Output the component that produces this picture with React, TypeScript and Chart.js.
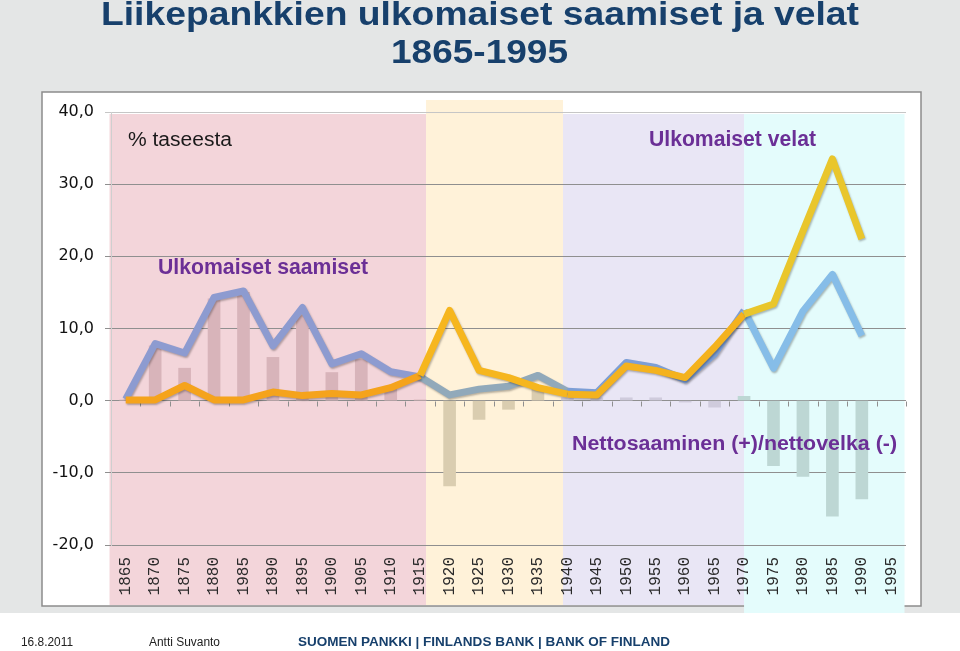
import React, { useEffect, useRef } from 'react';
import { Chart, registerables } from 'chart.js';

Chart.register(...registerables);

// ---- data ----
const years = ['1865', '1870', '1875', '1880', '1985', '1890', '1895', '1900', '1905', '1910', '1915', '1920', '1925', '1930', '1935', '1940', '1945', '1950', '1955', '1960', '1965', '1970', '1975', '1980', '1985', '1990', '1995'];
const assets = [0.2, 7.9, 6.6, 14.3, 15.2, 7.6, 12.9, 5.1, 6.5, 4.0, 3.3, 0.8, 1.6, 2.0, 3.5, 1.3, 1.1, 5.3, 4.6, 2.9, 6.5, 12.5, 4.5, 12.4, 17.5, 9.0, null];
const liabilities = [0.1, 0.1, 2.1, 0.1, 0.1, 1.2, 0.7, 1.0, 0.8, 1.8, 3.5, 12.5, 4.2, 3.2, 1.8, 0.9, 0.8, 4.8, 4.2, 3.2, 7.4, 12.0, 13.4, 23.5, 33.5, 22.4, null];
const net = [0.1, 7.6, 4.5, 14.1, 15.0, 6.0, 11.8, 3.9, 5.7, 2.0, 0.1, -11.8, -2.6, -1.2, 1.6, 0.4, 0.4, 0.4, 0.4, -0.2, -0.9, 0.6, -9.0, -10.5, -16.0, -13.6, null];
const yMin = -20;
const yMax = 40;
const yStep = 10;

// ---- period shading (in category units) ----
const bandEdges = [-0.55, 10.2, 14.85, 21.0, 26.45];
const bandColors = ['#f3d5da', '#fff2d9', '#e9e6f5', '#e4fcfc'];
const bandTops = [114, 100, 114, 114];
const bandBottoms = [605, 605, 605, 613];
const assetColors = ['#8d9bd0', '#91a9ba', '#7d9fd6', '#86bde8'];
const liabColors = ['#f5a31c', '#f6b61e', '#f4b21e', '#e9c62c'];
const barColors = ['#d8b4ba', '#dacdb0', '#cfcbdc', '#bdd7d4'];

const periodAt = (v: number) => {
  for (let k = 0; k < bandColors.length; k++) {
    if (v < bandEdges[k + 1]) return k;
  }
  return bandColors.length - 1;
};

const fitText = (ctx: CanvasRenderingContext2D, text: string, left: number, baseline: number, width: number, font: string, color: string) => {
  ctx.save();
  ctx.font = font;
  ctx.fillStyle = color;
  ctx.textAlign = 'left';
  ctx.textBaseline = 'alphabetic';
  const w = ctx.measureText(text).width;
  ctx.translate(left, baseline);
  ctx.scale(width / w, 1);
  ctx.fillText(text, 0, 0);
  ctx.restore();
};

const decor = {
  id: 'decor',
  beforeDraw(chart: any) {
    const { ctx } = chart;
    const x = chart.scales.x;
    ctx.save();
    ctx.fillStyle = '#e4e6e6';
    ctx.fillRect(0, 0, 960, 613);
    ctx.fillStyle = '#ffffff';
    ctx.fillRect(0, 613, 960, 38);
    ctx.fillStyle = '#ffffff';
    ctx.fillRect(42, 92, 879, 514);
    ctx.strokeStyle = '#8c8c8c';
    ctx.lineWidth = 1.5;
    ctx.strokeRect(42, 92, 879, 514);
    for (let k = 0; k < bandColors.length; k++) {
      const l = x.getPixelForValue(bandEdges[k]);
      const r = x.getPixelForValue(bandEdges[k + 1]);
      ctx.fillStyle = bandColors[k];
      ctx.fillRect(l, bandTops[k], r - l, bandBottoms[k] - bandTops[k]);
    }
    ctx.restore();
  },
  beforeDatasetsDraw(chart: any) {
    const { ctx } = chart;
    const x = chart.scales.x;
    const y = chart.scales.y;
    const y0 = Math.round(y.getPixelForValue(0)) + 0.5;
    ctx.save();
    ctx.strokeStyle = '#8f8f8f';
    ctx.lineWidth = 1;
    ctx.beginPath();
    for (let i = 0; i < years.length; i++) {
      const px = Math.round(x.getPixelForValue(i + 0.5)) + 0.5;
      ctx.moveTo(px, y0);
      ctx.lineTo(px, y0 + 5);
    }
    ctx.stroke();
    ctx.restore();
  },
  beforeDatasetDraw(chart: any, args: any) {
    if (chart.data.datasets[args.index].type === 'line') {
      const { ctx } = chart;
      ctx.save();
      ctx.shadowColor = 'rgba(0,0,0,0.28)';
      ctx.shadowBlur = 2;
      ctx.shadowOffsetX = 1;
      ctx.shadowOffsetY = 1.5;
    }
  },
  afterDatasetDraw(chart: any, args: any) {
    if (chart.data.datasets[args.index].type === 'line') {
      chart.ctx.restore();
    }
  },
  afterDraw(chart: any) {
    const { ctx } = chart;
    const navy = '#17406c';
    const purple = '#6b2f96';
    fitText(ctx, 'Liikepankkien ulkomaiset saamiset ja velat', 101, 25, 758, 'bold 33px "Liberation Sans Narrow", "Liberation Sans", Arial, sans-serif', navy);
    fitText(ctx, '1865-1995', 391, 63, 177, 'bold 33px "Liberation Sans Narrow", "Liberation Sans", Arial, sans-serif', navy);
    fitText(ctx, '% taseesta', 128, 146, 104, '20px "Liberation Sans", Arial, sans-serif', '#1a1a1a');
    fitText(ctx, 'Ulkomaiset saamiset', 158, 274, 210, 'bold 22px "Liberation Sans", Arial, sans-serif', purple);
    fitText(ctx, 'Ulkomaiset velat', 649, 146, 167, 'bold 22px "Liberation Sans", Arial, sans-serif', purple);
    fitText(ctx, 'Nettosaaminen (+)/nettovelka (-)', 572, 450, 325, 'bold 20px "Liberation Sans Narrow", "Liberation Sans", Arial, sans-serif', purple);
    fitText(ctx, '16.8.2011', 21, 646, 52, '12px "Liberation Sans", Arial, sans-serif', '#222222');
    fitText(ctx, 'Antti Suvanto', 149, 646, 71, '12px "Liberation Sans", Arial, sans-serif', '#222222');
    fitText(ctx, 'SUOMEN PANKKI | FINLANDS BANK | BANK OF FINLAND', 298, 646, 372, 'bold 13px "Liberation Sans", Arial, sans-serif', navy);
  },
};

export default function App() {
  const ref = useRef<HTMLCanvasElement | null>(null);
  useEffect(() => {
    if (!ref.current) return;
    const segColor = (colors: string[]) => (c: any) => colors[periodAt(c.p0DataIndex + 0.5)];
    const chart = new Chart(ref.current, {
      type: 'bar',
      data: {
        labels: years,
        datasets: [
          {
            type: 'bar',
            label: 'Nettosaaminen (+)/nettovelka (-)',
            data: net,
            backgroundColor: net.map((_, i) => barColors[periodAt(i)]),
            barThickness: 12,
            order: 3,
          } as any,
          {
            type: 'line',
            label: 'Ulkomaiset saamiset',
            data: assets,
            borderColor: assetColors[0],
            borderWidth: 7,
            pointRadius: 0,
            tension: 0,
            borderJoinStyle: 'round',
            borderCapStyle: 'butt',
            segment: { borderColor: segColor(assetColors) },
            order: 2,
          } as any,
          {
            type: 'line',
            label: 'Ulkomaiset velat',
            data: liabilities,
            borderColor: liabColors[0],
            borderWidth: 7,
            pointRadius: 0,
            tension: 0,
            borderJoinStyle: 'round',
            borderCapStyle: 'butt',
            segment: { borderColor: segColor(liabColors) },
            order: 1,
          } as any,
        ],
      },
      options: {
        responsive: false,
        devicePixelRatio: 1,
        animation: false,
        layout: { padding: { top: 112, left: 0, right: 54, bottom: 46 } },
        plugins: { legend: { display: false }, tooltip: { enabled: false } },
        scales: {
          x: {
            type: 'category',
            offset: true,
            grid: { display: false, drawTicks: false },
            border: { display: false },
            ticks: {
              autoSkip: false,
              minRotation: 90,
              maxRotation: 90,
              padding: 12,
              color: '#2a2a2a',
              font: { family: '"Liberation Mono", monospace', size: 16 },
            },
            afterFit: (s: any) => { s.height = 60; },
          },
          y: {
            min: yMin,
            max: yMax,
            ticks: {
              stepSize: yStep,
              padding: 11,
              color: '#111111',
              font: { family: '"DejaVu Sans", sans-serif', size: 16 },
              callback: (v: any) => Number(v).toFixed(1).replace('.', ','),
            },
            grid: {
              color: (c: any) => (c.tick && c.tick.value === yMax ? '#c6c6c6' : '#8f8f8f'),
              tickLength: 6,
              lineWidth: 1,
            },
            border: { display: true, color: '#cfcfcf' },
            afterFit: (s: any) => { s.width = 111; },
          },
        },
      } as any,
      plugins: [decor],
    });
    return () => chart.destroy();
  }, []);
  return (
    <div style={{ position: 'fixed', left: 0, top: 0, width: 960, height: 651 }}>
      <canvas ref={ref} width={960} height={651} style={{ display: 'block' }} />
    </div>
  );
}
